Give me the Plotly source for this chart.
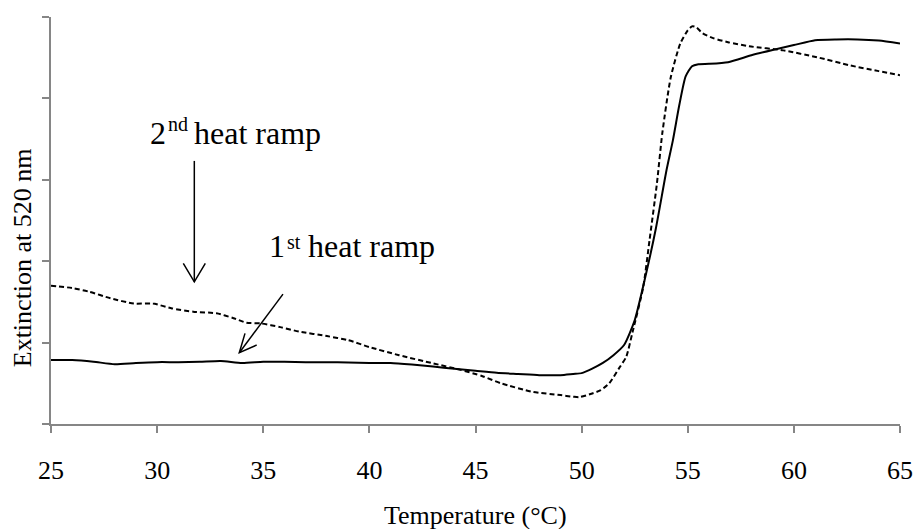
import plotly.graph_objects as go

# 1st heat ramp (solid)
temp_1 = [25, 26, 27, 28, 29, 30, 31, 32, 33, 34, 35, 36, 37, 38, 39, 40, 41, 42, 43, 44, 45, 46, 47, 48, 49,
          49.6, 50, 50.5, 51, 51.5, 52, 52.5, 53, 53.5, 54, 54.3, 54.6, 54.9, 55.2, 55.5, 56, 56.9, 58,
          59, 60, 61, 62, 63, 64, 65]
ext_1 = [0.157, 0.157, 0.153, 0.147, 0.150, 0.152, 0.152, 0.153, 0.155, 0.150, 0.153, 0.153, 0.152, 0.152,
         0.151, 0.150, 0.150, 0.146, 0.141, 0.136, 0.131, 0.126, 0.123, 0.120, 0.120,
         0.123, 0.125, 0.136, 0.150, 0.169, 0.194, 0.255, 0.361, 0.481, 0.624, 0.697, 0.783, 0.854, 0.879,
         0.884, 0.885, 0.889, 0.906, 0.919, 0.931, 0.943, 0.945, 0.945, 0.942, 0.935]

# 2nd heat ramp (dashed)
temp_2 = [25, 26, 26.8, 27.8, 28.9, 29.8, 30.7, 31.7, 32.8, 33.6, 34.2, 34.9, 35.8, 36.7, 38, 39, 40, 41.4,
          43, 44.3, 45.3, 46.2, 47.7, 49, 49.6, 49.9, 50.5, 50.9, 51.3, 51.8, 52.1, 52.4, 52.9, 53.2, 53.55,
          53.8, 54.2, 54.65, 55.0, 55.2, 55.4, 55.7, 56.2, 56.9, 57.9, 59.5, 61.1, 62.65, 64, 65]
ext_2 = [0.340, 0.334, 0.325, 0.309, 0.296, 0.296, 0.284, 0.276, 0.272, 0.260, 0.249, 0.247, 0.238, 0.227,
         0.216, 0.206, 0.189, 0.169, 0.149, 0.133, 0.118, 0.100, 0.079, 0.071, 0.067, 0.066, 0.075, 0.083,
         0.100, 0.140, 0.165, 0.226, 0.336, 0.452, 0.592, 0.714, 0.852, 0.935, 0.967, 0.977, 0.975, 0.960,
         0.948, 0.938, 0.928, 0.918, 0.901, 0.881, 0.867, 0.857]

x_ticks = [25, 30, 35, 40, 45, 50, 55, 60, 65]
y_ticks = [0, 0.2, 0.4, 0.6, 0.8, 1.0]

FONT = "Liberation Serif, Times New Roman, serif"
AXIS_COLOR = "#868686"
FS = 26      # axis text
FA = 32      # annotation text
FSUP = 20    # superscript text

fig = go.Figure()
fig.add_trace(go.Scatter(x=temp_1, y=ext_1, mode="lines",
                         line=dict(color="black", width=2, shape="spline", smoothing=0.6),
                         showlegend=False, hoverinfo="skip"))
fig.add_trace(go.Scatter(x=temp_2, y=ext_2, mode="lines",
                         line=dict(color="black", width=2, dash="5px,3px", shape="spline", smoothing=0.6),
                         showlegend=False, hoverinfo="skip"))

# arrows (shaft + open V head)
arrow_line = dict(color="black", width=1.5)
shapes = [
    dict(type="line", xref="x", yref="y", x0=31.752, y0=0.6464, x1=31.752, y1=0.3494, line=arrow_line),
    dict(type="path", xref="x", yref="y",
         path="M 31.233 0.3946 L 31.752 0.3494 L 32.27 0.3946", line=arrow_line),
    dict(type="line", xref="x", yref="y", x0=35.93, y0=0.3192, x1=33.872, y1=0.1751, line=arrow_line),
    dict(type="path", xref="x", yref="y",
         path="M 34.14 0.2227 L 33.872 0.1751 L 34.69 0.194", line=arrow_line),
]


def txt(text, x, y, size, xanchor, xref="x", yref="y", angle=0):
    return dict(text=text, x=x, y=y, xref=xref, yref=yref, showarrow=False, textangle=angle,
                font=dict(family=FONT, size=size, color="black"), xanchor=xanchor, yanchor="middle")


annotations = [
    # "2nd heat ramp"
    txt("2", 30.50, 0.7152, FA, "right"),
    txt("nd", 30.42, 0.7367, FSUP, "left"),
    txt("heat ramp", 31.64, 0.7152, FA, "left"),
    # "1st heat ramp"
    txt("1", 36.12, 0.4378, FA, "right"),
    txt("st", 36.03, 0.4470, FSUP, "left"),
    txt("heat ramp", 37.02, 0.4378, FA, "left"),
    # axis titles
    txt("Temperature (°C)", 0.5, -0.2259, FS, "center", "paper", "paper"),
    txt("Extinction at 520 nm", -0.034, 0.4076, FS, "center", "paper", "paper", -90),
]

fig.update_layout(
    width=915, height=529,
    margin=dict(l=51, r=15, t=17, b=105, autoexpand=False),
    paper_bgcolor="white", plot_bgcolor="white",
    shapes=shapes, annotations=annotations,
    font=dict(family=FONT, size=FS, color="black"),
    xaxis=dict(range=[25, 65], tickvals=x_ticks, ticktext=[str(v) for v in x_ticks], automargin=False,
               showgrid=False, zeroline=False, showline=True, linecolor=AXIS_COLOR, linewidth=2,
               ticks="outside", ticklen=7, tickwidth=2, tickcolor=AXIS_COLOR,
               tickfont=dict(family=FONT, size=FS, color="black"), ticklabelstandoff=15),
    yaxis=dict(range=[0, 1.0], tickvals=y_ticks, showticklabels=False, automargin=False,
               showgrid=False, zeroline=False, showline=True, linecolor=AXIS_COLOR, linewidth=2,
               ticks="outside", ticklen=7, tickwidth=2, tickcolor=AXIS_COLOR),
)

fig.write_html("out.html")
